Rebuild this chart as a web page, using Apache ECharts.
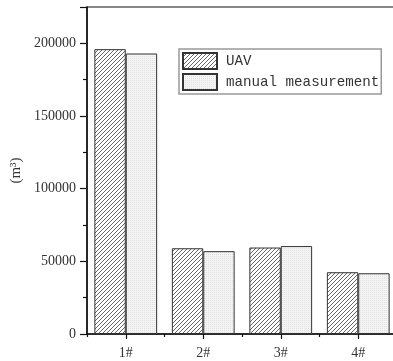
<!DOCTYPE html>
<html><head><meta charset="utf-8">
<script src="https://cdn.jsdelivr.net/npm/echarts@6/dist/echarts.min.js"></script>
<style>html,body{margin:0;padding:0;background:#fff}#c{width:393px;height:361px}</style>
</head><body><div id="c"></div>
<script>
const categories = ['1#', '2#', '3#', '4#'];
const uavValues = [196000, 59000, 59500, 42500];
const manualValues = [193000, 57000, 60500, 41800];
const seriesNames = ['UAV', 'manual measurement'];
const yTicks = [0, 50000, 100000, 150000, 200000];

function hatch() {
  const c = document.createElement('canvas');
  c.width = 4; c.height = 4;
  const g = c.getContext('2d');
  g.fillStyle = '#ffffff'; g.fillRect(0, 0, 4, 4);
  g.strokeStyle = '#555555'; g.lineWidth = 0.9;
  g.beginPath();
  g.moveTo(-1, 5); g.lineTo(5, -1);
  g.moveTo(-3, 3); g.lineTo(3, -3);
  g.moveTo(1, 7); g.lineTo(7, 1);
  g.stroke();
  return c;
}
function dots() {
  const c = document.createElement('canvas');
  c.width = 2; c.height = 2;
  const g = c.getContext('2d');
  g.fillStyle = '#f4f4f4'; g.fillRect(0, 0, 2, 2);
  g.fillStyle = '#e2e2e2'; g.fillRect(0, 0, 1, 1);
  return c;
}

const chart = echarts.init(document.getElementById('c'), null, {renderer: 'canvas'});
const serif = 'Liberation Serif';
chart.setOption({
  animation: false,
  grid: {left: 87, top: 7, width: 310, bottom: 27, outerBoundsMode: 'none', containLabel: false,
    show: true, borderColor: '#111', borderWidth: 1.2},
  legend: {
    orient: 'vertical', left: 179, top: 49, itemGap: 3,
    itemWidth: 34, itemHeight: 16, icon: 'rect',
    padding: [3, 2, 3, 3],
    borderColor: '#999', borderWidth: 1.5, backgroundColor: '#fff',
    textStyle: {fontFamily: 'Liberation Mono', fontSize: 14.2, color: '#333', padding: [0, 0, 0, 4]},
    data: seriesNames
  },
  xAxis: [{
    type: 'category', data: categories,
    axisLine: {lineStyle: {color: '#111', width: 1.5}},
    axisTick: {show: true, alignWithLabel: true, length: 5, lineStyle: {color: '#111', width: 1.2}},
    axisLabel: {fontFamily: serif, fontSize: 14, color: '#333', margin: 12}
  }, {
    type: 'category', data: categories, position: 'bottom',
    axisLine: {show: false},
    axisTick: {show: true, alignWithLabel: false, length: 3, lineStyle: {color: '#111', width: 1.2}},
    axisLabel: {show: false}
  }],
  yAxis: {
    type: 'value', min: 0, max: 225000, interval: 50000,
    name: '(m³)', nameLocation: 'middle', nameRotate: 90, nameGap: 60,
    nameTextStyle: {fontFamily: serif, fontSize: 15, color: '#333'},
    axisLine: {show: true, lineStyle: {color: '#111', width: 1.5}},
    axisTick: {show: true, length: 7, lineStyle: {color: '#111', width: 1.2}},
    minorTick: {show: true, splitNumber: 2, length: 4, lineStyle: {color: '#111', width: 1.2}},
    splitLine: {show: false},
    axisLabel: {fontFamily: serif, fontSize: 14, color: '#333', margin: 11,
      formatter: v => yTicks.indexOf(v) >= 0 ? String(v) : ''}
  },
  series: [{
    name: seriesNames[0], type: 'bar', data: uavValues, xAxisIndex: 0,
    barGap: '0%', barCategoryGap: '19%',
    itemStyle: {color: {image: hatch(), repeat: 'repeat'}, borderColor: '#333', borderWidth: 1}
  }, {
    name: seriesNames[1], type: 'bar', data: manualValues, xAxisIndex: 0,
    barGap: '0%', barCategoryGap: '19%',
    itemStyle: {color: {image: dots(), repeat: 'repeat'}, borderColor: '#333', borderWidth: 1}
  }]
});
</script></body></html>
